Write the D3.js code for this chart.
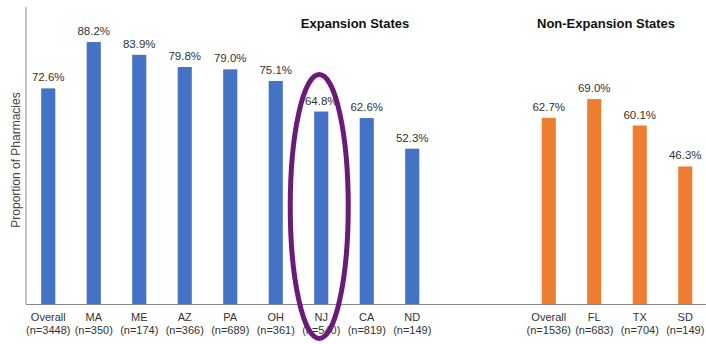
<!DOCTYPE html>
<html><head><meta charset="utf-8">
<script src="https://cdn.jsdelivr.net/npm/d3@7"></script>
<style>body{margin:0;background:#fff}svg{display:block}</style>
</head><body>
<svg id="c" width="706" height="344"></svg>
<script>
const expStates = ["Overall","MA","ME","AZ","PA","OH","NJ","CA","ND"];
const expN = [3448,350,174,366,689,361,540,819,149];
const expValues = [72.6,88.2,83.9,79.8,79.0,75.1,64.8,62.6,52.3];
const nonStates = ["Overall","FL","TX","SD"];
const nonN = [1536,683,704,149];
const nonValues = [62.7,69.0,60.1,46.3];
const groupTitles = ["Expansion States","Non-Expansion States"];
const yTitle = "Proportion of Pharmacies";

const rows = [];
expStates.forEach((s,i)=>rows.push({key:"e"+i,name:s,n:expN[i],v:expValues[i],g:0}));
rows.push({key:"gap1"},{key:"gap2"});
nonStates.forEach((s,i)=>rows.push({key:"n"+i,name:s,n:nonN[i],v:nonValues[i],g:1}));

const svg = d3.select("#c");
const x = d3.scaleBand().domain(rows.map(d=>d.key)).range([25.5,708]).paddingInner(0.69).paddingOuter(0.345);
const y = d3.scaleLinear().domain([0,100]).range([304,7]);
const colors = ["#4472C4","#ED7D31"];
const font = "Liberation Sans, Arial, sans-serif";

// axes lines
svg.append("line").attr("x1",26).attr("x2",26).attr("y1",y(100)).attr("y2",y(0)).attr("stroke","#888").attr("stroke-width",1);
svg.append("line").attr("x1",26).attr("x2",706).attr("y1",y(0)+0.5).attr("y2",y(0)+0.5).attr("stroke","#888").attr("stroke-width",1.2);

const bars = rows.filter(d=>d.name);
svg.selectAll("rect.bar").data(bars).enter().append("rect")
  .attr("x",d=>x(d.key)).attr("width",x.bandwidth())
  .attr("y",d=>y(d.v)).attr("height",d=>y(0)-y(d.v))
  .attr("fill",d=>colors[d.g]);

svg.selectAll("text.val").data(bars).enter().append("text")
  .attr("x",d=>x(d.key)+x.bandwidth()/2).attr("y",d=>y(d.v)-7)
  .attr("text-anchor","middle").attr("font-family",font).attr("font-size",11.5).attr("fill","#333")
  .text(d=>d.v.toFixed(1)+"%");

const lab = svg.selectAll("text.lab").data(bars).enter().append("text")
  .attr("text-anchor","middle").attr("font-family",font).attr("font-size",11).attr("fill","#333");
lab.append("tspan").attr("x",d=>x(d.key)+x.bandwidth()/2).attr("y",321).text(d=>d.name);
lab.append("tspan").attr("x",d=>x(d.key)+x.bandwidth()/2).attr("y",334).text(d=>"(n="+d.n+")");

// group titles
svg.append("text").attr("x",355).attr("y",28).attr("text-anchor","middle").attr("font-family",font)
  .attr("font-weight","bold").attr("font-size",13).attr("fill","#111").text(groupTitles[0]);
svg.append("text").attr("x",606).attr("y",28).attr("text-anchor","middle").attr("font-family",font)
  .attr("font-weight","bold").attr("font-size",13).attr("fill","#111").text(groupTitles[1]);

// y title
svg.append("text").attr("transform","translate(20,160) rotate(-90)").attr("text-anchor","middle")
  .attr("font-family",font).attr("font-size",12).attr("fill","#444").text(yTitle);

// highlight ellipse around NJ
const nj = rows.find(d=>d.key==="e6");
svg.append("ellipse").attr("cx",x(nj.key)+x.bandwidth()/2-2).attr("cy",206.5).attr("rx",29).attr("ry",132)
  .attr("fill","none").attr("stroke","#6A1B78").attr("stroke-width",5);
</script>
</body></html>
